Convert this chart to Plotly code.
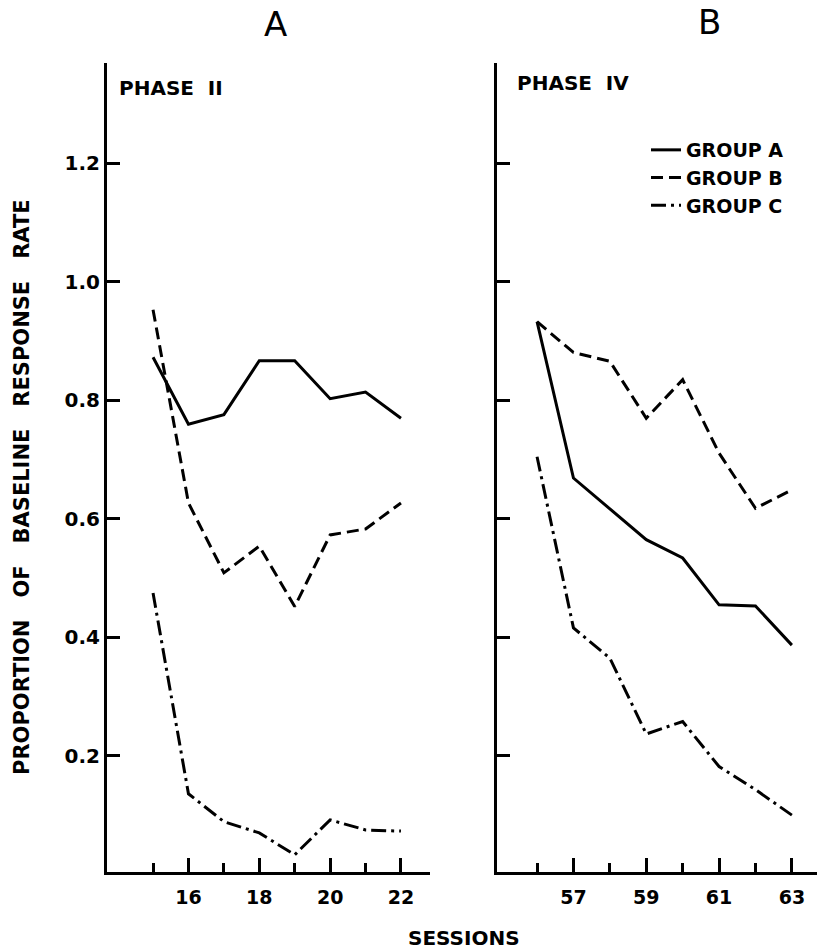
import plotly.graph_objects as go

# ---------------- data ----------------
sessions_phase2 = [15, 16, 17, 18, 19, 20, 21, 22]
phase2_group_a = [0.873, 0.760, 0.776, 0.867, 0.867, 0.803, 0.814, 0.770]
phase2_group_b = [0.953, 0.627, 0.509, 0.554, 0.452, 0.573, 0.583, 0.627]
phase2_group_c = [0.475, 0.136, 0.089, 0.070, 0.033, 0.092, 0.075, 0.073]

sessions_phase4 = [56, 57, 58, 59, 60, 61, 62, 63]
phase4_group_a = [0.933, 0.669, 0.617, 0.565, 0.534, 0.455, 0.453, 0.387]
phase4_group_b = [0.933, 0.881, 0.866, 0.770, 0.835, 0.711, 0.618, 0.649]
phase4_group_c = [0.705, 0.416, 0.365, 0.237, 0.258, 0.182, 0.143, 0.100]

group_names = ["GROUP A", "GROUP B", "GROUP C"]
y_tickvals = [0.2, 0.4, 0.6, 0.8, 1.0, 1.2]
y_ticktext = ["0.2", "0.4", "0.6", "0.8", "1.0", "1.2"]
x2_major = [16, 18, 20, 22]
x2_minor = [15, 17, 19, 21]
x4_major = [57, 59, 61, 63]
x4_minor = [56, 58, 60, 62]

# ---------------- styling ----------------
W, H = 821, 950
FONT = "DejaVu Sans"
dashes = ["solid", "12px,6px", "15px,5px,3px,5px"]
LW = 3
NB = "\u00a0"

def px_x(p):
    return p / W

def px_y(p):
    return 1 - p / H

fig = go.Figure()

for vals, name, dash in zip([phase2_group_a, phase2_group_b, phase2_group_c], group_names, dashes):
    fig.add_trace(go.Scatter(x=sessions_phase2, y=vals, mode="lines", name=name,
                             line=dict(color="black", width=LW, dash=dash),
                             showlegend=False, xaxis="x", yaxis="y"))

for vals, name, dash in zip([phase4_group_a, phase4_group_b, phase4_group_c], group_names, dashes):
    fig.add_trace(go.Scatter(x=sessions_phase4, y=vals, mode="lines", name=name,
                             line=dict(color="black", width=LW, dash=dash),
                             showlegend=True, xaxis="x2", yaxis="y2"))

y_dom = [px_y(872), px_y(63)]
y_rng = [0.004, 1.3696]

ytickfont = dict(family=FONT, size=20, color="black", weight="bold")
xtickfont = dict(family=FONT, size=19, color="black", weight="bold")

common_x = dict(showline=True, linecolor="black", linewidth=3, ticks="inside",
                ticklen=14, tickwidth=2.5, tickcolor="black", showgrid=False,
                zeroline=False, tickfont=xtickfont, tickmode="array",
                ticklabelstandoff=6)
common_y = dict(showline=True, linecolor="black", linewidth=3, ticks="inside",
                ticklen=13, tickwidth=3, tickcolor="black", showgrid=False,
                zeroline=False, tickfont=ytickfont, range=y_rng, domain=y_dom,
                tickmode="array", tickvals=y_tickvals, ticktext=y_ticktext)

fig.update_layout(
    width=W, height=H,
    margin=dict(l=0, r=0, t=0, b=0),
    paper_bgcolor="white", plot_bgcolor="white",
    xaxis=dict(**common_x, domain=[px_x(107), px_x(430)], range=[13.70, 22.82],
               tickvals=x2_major, ticktext=[str(v) for v in x2_major], anchor="y",
               minor=dict(tickvals=x2_minor, ticks="inside", ticklen=9,
                          tickwidth=2.5, tickcolor="black", showgrid=False)),
    yaxis=dict(**common_y, anchor="x", showticklabels=True),
    xaxis2=dict(**common_x, domain=[px_x(497), px_x(817)], range=[54.90, 63.69],
                tickvals=x4_major, ticktext=[str(v) for v in x4_major], anchor="y2",
                minor=dict(tickvals=x4_minor, ticks="inside", ticklen=9,
                           tickwidth=2.5, tickcolor="black", showgrid=False)),
    yaxis2=dict(**common_y, anchor="x2", showticklabels=False),
    legend=dict(x=px_x(646), y=px_y(131), xanchor="left", yanchor="top",
                font=dict(family=FONT, size=19, color="black", weight="bold"),
                bgcolor="rgba(0,0,0,0)", borderwidth=0, tracegroupgap=0),
    showlegend=True,
)

annos = [
    dict(text="A", x=px_x(275), y=px_y(24), font=dict(family=FONT, size=34, color="black")),
    dict(text="B", x=px_x(709), y=px_y(22), font=dict(family=FONT, size=34, color="black")),
    dict(text="PHASE" + NB * 2 + "II", x=px_x(117), y=px_y(88), xanchor="left",
         font=dict(family=FONT, size=20, color="black", weight="bold")),
    dict(text="PHASE" + NB * 2 + "IV", x=px_x(515), y=px_y(83), xanchor="left",
         font=dict(family=FONT, size=20, color="black", weight="bold")),
    dict(text="SESSIONS", x=px_x(464), y=px_y(938),
         font=dict(family=FONT, size=20, color="black", weight="bold")),
    dict(text=(NB * 3).join(["PROPORTION", "OF", "BASELINE", "RESPONSE", "RATE"]),
         x=px_x(22), y=px_y(487),
         textangle=-90, font=dict(family=FONT, size=21, color="black", weight="bold")),
]
for a in annos:
    a.setdefault("xanchor", "center")
    a.update(xref="paper", yref="paper", showarrow=False, yanchor="middle")
    fig.add_annotation(**a)

fig.write_html("out.html")
